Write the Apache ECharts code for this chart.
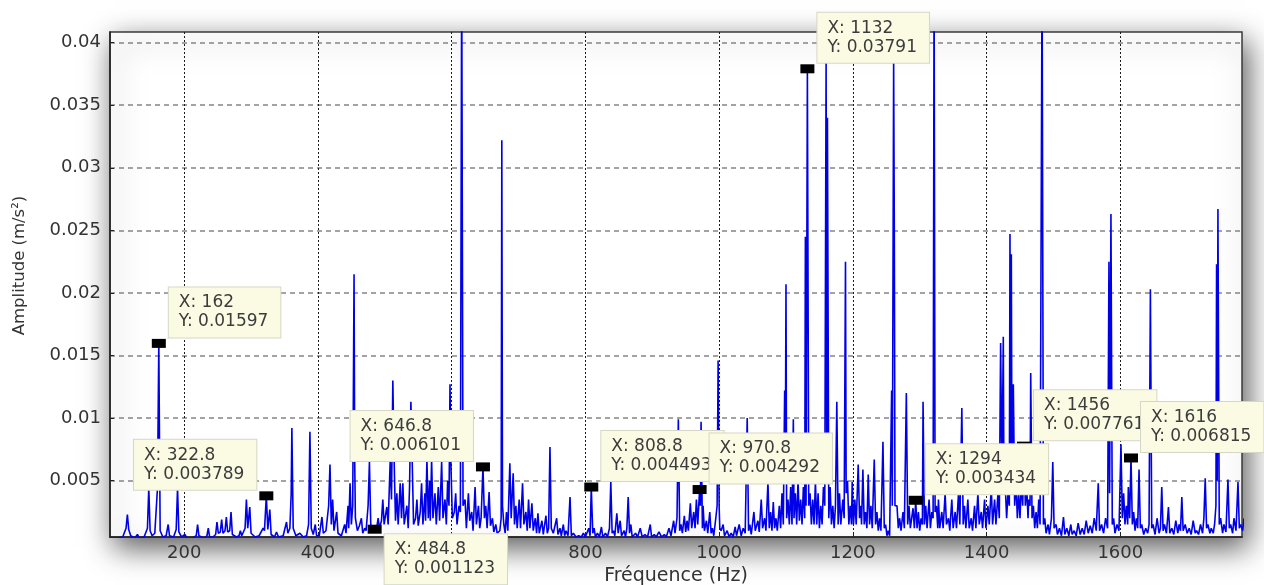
<!DOCTYPE html>
<html><head><meta charset="utf-8">
<script src="https://cdn.jsdelivr.net/npm/echarts@6/dist/echarts.min.js"></script>
<style>html,body{margin:0;padding:0;background:#fff}#chart{width:1264px;height:585px}</style>
</head><body><div id="chart"></div>
<script>
// Axis ticks
const xTicks = [200, 400, 600, 800, 1000, 1200, 1400, 1600];
const yTicks = [0.005, 0.01, 0.015, 0.02, 0.025, 0.03, 0.035, 0.04];

// Spectrum: [frequency (Hz), amplitude (m/s^2)]
const spectrumA = [
 [89,0.0004],[100,0.0004],[108,0.0005],[113,0.0012],[115,0.0023],[117,0.0011],[120,0.0006],[126,0.0004],[130,0.0007],[133,0.0004],
 [140,0.0005],[145,0.0012],[147,0.0044],[149,0.0010],[152,0.0006],[156,0.0008],[160,0.0044],[162,0.01597],[163,0.0085],[164,0.0010],
 [168,0.0005],[173,0.0006],[176,0.0015],[178,0.0006],[184,0.0005],[188,0.0011],[190,0.0044],[192,0.0009],[196,0.0005],[201,0.0007],
 [204,0.0004],[212,0.0004],[218,0.0006],[220,0.0015],[222,0.0006],[230,0.0004],[234,0.0006],[236,0.0012],[238,0.0005],[243,0.0005],
 [247,0.0007],[249,0.0017],[251,0.0008],[254,0.0009],[256,0.0019],[258,0.0008],[261,0.0010],[263,0.0021],[265,0.0009],[268,0.0010],
 [270,0.0025],[272,0.0007],[278,0.0005],[282,0.0006],[284,0.0010],[286,0.0006],[291,0.0012],[293,0.0035],[295,0.0012],[298,0.0029],
 [300,0.0008],[306,0.0005],[312,0.0006],[318,0.0012],[320,0.0010],[322.8,0.003789],[325,0.0011],[328,0.0027],[330,0.0007],[335,0.0005],
 [338,0.0009],[341,0.0005],[348,0.0006],[353,0.0017],[355,0.0008],[358,0.0012],[360,0.0040],[361,0.0092],[363,0.0012],[367,0.0006],
 [373,0.0008],[378,0.0005],[383,0.0006],[386,0.0015],[388,0.0089],[390,0.0012],[393,0.0007],[396,0.0015],[398,0.0006]
];
const spectrumB = [
 [402,0.0006],[406,0.0021],[408,0.0008],[412,0.0010],[416,0.0030],[418,0.0063],[420,0.0015],[422,0.0035],[424,0.0010],[428,0.0025],
 [430,0.0008],[435,0.0006],[440,0.0015],[442,0.0008],[445,0.0030],[446,0.0012],[448,0.0048],[450,0.0015],[452,0.0030],[454,0.0215],
 [455,0.0065],[456,0.0020],[459,0.0010],[462,0.0014],[465,0.0020],[467,0.0008],[470,0.0012],[472,0.0010],[475,0.0030],[477,0.0065],
 [479,0.0015],[482,0.0010],[484.8,0.001123],[487,0.0009],[490,0.0020],[492,0.0012],[495,0.0018],[497,0.0035],[499,0.0015],[503,0.0029],
 [505,0.0015],[508,0.0065],[510,0.0035],[512,0.0130],[514,0.0065],[516,0.0018],[518,0.0040],[520,0.0015],[523,0.0048],[525,0.0020],
 [527,0.0048],[529,0.0015],[533,0.0030],[535,0.0012],[537,0.0045],[539,0.0113],[541,0.0065],[543,0.0015],[546,0.0020],[548,0.0035],
 [550,0.0014],[553,0.0025],[555,0.0048],[557,0.0015],[560,0.0040],[561,0.0018],[563,0.0067],[565,0.0020],[567,0.0050],[568,0.0018],
 [570,0.0067],[572,0.0020],[575,0.0040],[577,0.0015],[580,0.0045],[582,0.0018],[585,0.0065],[587,0.0020],[590,0.0035],[592,0.0015],
 [594,0.0050],[596,0.0030],[597.5,0.0127],[599,0.0060],[601,0.0020],[604,0.0025],[606,0.0040],[608,0.0015],[611,0.0030],[613,0.0025],
 [614,0.0245],[615,0.046],[616,0.046],[617,0.0030],[620,0.0035],[622,0.0012],[625,0.0040],[627,0.0018],[630,0.0025],[632,0.0010],
 [635,0.0045],[637,0.0015],[640,0.0030],[642,0.0012],[644,0.0020],[646.8,0.006101],[649,0.0020],[651,0.0030],[653,0.0012],[656,0.0041],
 [658,0.0014],[661,0.0020],[663,0.0009],[666,0.0015],[668,0.0008],[672,0.0010],[674,0.0020],[675,0.0322],[676,0.0030],[678,0.0015],
 [680,0.0008],[682,0.0025],[684,0.0010],[687,0.0064],[689,0.0020],[692,0.0056],[694,0.0015],[696,0.0030],[698,0.0012],[701,0.0035],
 [703,0.0012],[706,0.0048],[708,0.0015],[711,0.0025],[713,0.0010],[715,0.0035],[717,0.0012],[720,0.0032],[722,0.0010],[725,0.0020],
 [727,0.0008],[729,0.0024],[731,0.0008],[735,0.0018],[737,0.0007],[741,0.0022],[743,0.0008],[745,0.0012],[747,0.0077],[749,0.0012],
 [752,0.0008],[757,0.0020],[759,0.0007],[762,0.0012],[764,0.0006],[767,0.0015],[769,0.0006],[771,0.0010],[774,0.0006],[777,0.0037],
 [779,0.0006],[782,0.0008],[786,0.0005],[790,0.0006],[794,0.0005],[797,0.0008],[800,0.0005]
];
const spectrumC = [
 [805,0.0012],[807,0.0006],[808.8,0.004493],[811,0.0008],[813,0.0012],[815,0.0005],[818,0.0008],[821,0.0005],[824,0.0013],[826,0.0005],
 [830,0.0008],[833,0.0005],[836,0.0012],[838,0.0049],[840,0.0008],[842,0.0010],[844,0.0006],[847,0.0024],[849,0.0008],[852,0.0018],
 [854,0.0006],[858,0.0010],[860,0.0005],[862,0.0012],[864,0.0037],[866,0.0008],[868,0.0015],[870,0.0005],[875,0.0008],[878,0.0005],
 [882,0.0012],[885,0.0005],[889,0.0007],[893,0.0005],[897,0.0015],[899,0.0005],[903,0.0007],[906,0.0005],[910,0.0009],[914,0.0005],
 [918,0.0007],[921,0.0005],[925,0.0012],[928,0.0006],[932,0.0018],[934,0.0008],[937,0.0020],[939,0.0099],[941,0.0010],[943,0.0015],
 [945,0.0008],[948,0.0022],[950,0.0009],[952,0.0018],[954,0.0010],[957,0.0032],[959,0.0012],[962,0.0025],[964,0.0012],[966,0.0035],
 [968,0.0015],[970.8,0.004292],[972,0.0030],[973,0.0097],[975,0.0012],[976,0.0030],[978,0.0010],[981,0.0018],[983,0.0008],[986,0.0025],
 [988,0.0008],[990,0.0012],[992,0.0006],[995,0.0020],[997,0.0030],[998.5,0.0146],[1000,0.0030],[1001,0.0012],[1003,0.0010],[1006,0.0015],
 [1008,0.0006],[1012,0.0010],[1015,0.0005],[1018,0.0008],[1021,0.0005],[1024,0.0013],[1026,0.0006],[1030,0.0015],[1033,0.0006],[1036,0.0012],
 [1039,0.0008],[1042,0.0100],[1044,0.0010],[1046,0.0015],[1048,0.0007],[1052,0.0025],[1054,0.0010],[1058,0.0018],[1060,0.0009],[1063,0.0035],
 [1065,0.0012],[1068,0.0020],[1070,0.0010],[1073,0.0049],[1075,0.0012],[1077,0.0025],[1079,0.0010],[1081,0.0033],[1083,0.0012],[1085,0.0020],
 [1087,0.0010],[1090,0.0030],[1092,0.0012],[1094,0.0040],[1096,0.0015],[1098,0.0122],[1099,0.0060],[1100,0.0207],[1101,0.0020],[1103,0.0035],
 [1105,0.0015],[1107,0.0045],[1109,0.0015],[1111,0.0099],[1112,0.0020],[1114,0.0040],[1116,0.0015],[1118,0.0050],[1120,0.0018],[1122,0.0035],
 [1124,0.0015],[1126,0.0045],[1128,0.0020],[1129,0.0245],[1130,0.0030],[1132,0.03791],[1134,0.0030],[1136,0.0040],[1138,0.0015],[1140,0.0035],
 [1142,0.0015],[1144,0.0050],[1146,0.0015],[1148,0.0040],[1150,0.0012],[1152,0.0030],[1154,0.0015],[1156,0.0045],[1158,0.0030],[1160,0.0388],
 [1161,0.0050],[1162,0.0340],[1164,0.0020],[1166,0.0045],[1168,0.0015],[1170,0.0030],[1172,0.0012],[1174,0.0030],[1176,0.0113],[1178,0.0015],
 [1180,0.0040],[1182,0.0015],[1185,0.0035],[1187,0.0020],[1189,0.0225],[1190,0.0040],[1192,0.0050],[1194,0.0015],[1196,0.0030],[1198,0.0015],
 [1199,0.0049],[1201,0.0015]
];
const spectrumD = [
 [1203,0.0035],[1205,0.0015],[1208,0.0063],[1210,0.0020],[1212,0.0030],[1213,0.0015],[1215,0.0059],[1217,0.0015],[1219,0.0025],[1221,0.0012],
 [1223,0.0055],[1225,0.0015],[1227,0.0030],[1229,0.0012],[1232,0.0067],[1234,0.0015],[1236,0.0025],[1238,0.0010],[1240,0.0020],[1242,0.0010],
 [1245,0.0081],[1247,0.0012],[1249,0.0015],[1251,0.0006],[1253,0.0010],[1255,0.0006],[1258,0.0122],[1259,0.0030],[1261,0.0386],[1262,0.0253],
 [1263,0.0030],[1266,0.0030],[1268,0.0012],[1270,0.0020],[1272,0.0010],[1275,0.0025],[1277,0.0012],[1280,0.0120],[1282,0.0015],[1284,0.0030],
 [1286,0.0012],[1288,0.0020],[1290,0.0028],[1292,0.0012],[1294,0.003434],[1296,0.0012],[1298,0.0025],[1300,0.0010],[1302,0.0020],[1304,0.0015],
 [1305,0.0113],[1307,0.0015],[1309,0.0030],[1311,0.0012],[1314,0.0035],[1316,0.0012],[1318,0.0025],[1320,0.0020],[1321.5,0.046],[1323,0.0025],
 [1325,0.0030],[1327,0.0012],[1328,0.0035],[1330,0.0012],[1333,0.0025],[1335,0.0012],[1338,0.0040],[1340,0.0015],[1343,0.0020],[1345,0.0010],
 [1348,0.0035],[1350,0.0012],[1353,0.0025],[1355,0.0012],[1358,0.0040],[1360,0.0015],[1363,0.0108],[1365,0.0015],[1367,0.0030],[1369,0.0012],
 [1372,0.0035],[1374,0.0012],[1377,0.0020],[1379,0.0010],[1382,0.0030],[1384,0.0012],[1387,0.0040],[1389,0.0015],[1392,0.0025],[1394,0.0012],
 [1397,0.0035],[1399,0.0012],[1402,0.0030],[1404,0.0015],[1407,0.0045],[1409,0.0015],[1412,0.0035],[1414,0.0015],[1417,0.0040],[1419,0.0020],
 [1421,0.0160],[1423,0.0050],[1425,0.0165],[1426,0.0040],[1428,0.0045],[1430,0.0020],[1432,0.0040],[1434,0.0030],[1435,0.0247],[1436,0.0060],
 [1437,0.0231],[1438,0.0050],[1440,0.0127],[1442,0.0030],[1444,0.0050],[1446,0.0020],[1448,0.0040],[1450,0.0020],[1452,0.0050],[1454,0.0030],
 [1456,0.007761],[1458,0.0030],[1460,0.0045],[1462,0.0020],[1463,0.0035],[1465,0.0030],[1466,0.0136],[1468,0.0020],[1470,0.0030],[1472,0.0012],
 [1474,0.0025],[1476,0.0012],[1478,0.0035],[1480,0.0015],[1483,0.046],[1485,0.0015],[1487,0.0020],[1489,0.0008],[1492,0.0015],[1494,0.0007],
 [1497,0.0020],[1499,0.0065],[1501,0.0012],[1504,0.0015],[1506,0.0007],[1509,0.0012],[1512,0.0006],[1515,0.0021],[1517,0.0007],[1520,0.0012],
 [1523,0.0006],[1526,0.0015],[1528,0.0007],[1531,0.0010],[1534,0.0006],[1537,0.0016],[1540,0.0007],[1543,0.0012],[1546,0.0007],[1549,0.0018],
 [1552,0.0008],[1555,0.0014],[1558,0.0008],[1561,0.0020],[1564,0.0010],[1567,0.0048],[1569,0.0010],[1572,0.0015],[1575,0.0008],[1578,0.0020],
 [1581,0.0012],[1583,0.0225],[1584,0.0040],[1586,0.0263],[1588,0.0015],[1590,0.0020],[1592,0.0008],[1595,0.0015],[1598,0.0010],[1601,0.0079],
 [1603,0.0020],[1605,0.0040],[1607,0.0015],[1609,0.0030],[1611,0.0015],[1612,0.0045],[1614,0.0020],[1616,0.006815],[1618,0.0015],[1620,0.0025],
 [1622,0.0010],[1624,0.0020],[1626,0.0012],[1628,0.0059],[1630,0.0012],[1632,0.0015],[1635,0.0007],[1638,0.0012],[1641,0.0008],[1643,0.0015],
 [1645,0.0203],[1647,0.0012],[1649,0.0015],[1652,0.0007],[1655,0.0020],[1658,0.0008],[1660,0.0012],[1662,0.0045],[1664,0.0010],[1666,0.0015],
 [1669,0.0008],[1672,0.0029],[1674,0.0008],[1677,0.0012],[1680,0.0007],[1683,0.0018],[1686,0.0008],[1688,0.0015],[1690,0.0010],[1692,0.0037],
 [1694,0.0010],[1697,0.0015],[1700,0.0008],[1703,0.0012],[1706,0.0007],[1709,0.0018],[1712,0.0008],[1714,0.0010],[1717,0.0007],[1720,0.0015],
 [1723,0.0008],[1725,0.0020],[1727,0.0052],[1729,0.0012],[1731,0.0015],[1734,0.0008],[1736,0.0012],[1739,0.0008],[1741,0.0015],[1743,0.0030],
 [1744,0.0223],[1745,0.0050],[1746,0.0267],[1748,0.0015],[1750,0.0020],[1753,0.0008],[1755,0.0015],[1758,0.0009],[1761,0.0051],[1763,0.0012],
 [1765,0.0015],[1768,0.0008],[1770,0.0020],[1773,0.0010],[1776,0.0049],[1778,0.0012],[1780,0.0015],[1783,0.0010],[1785,0.0020]
];

// Data tips (MATLAB data cursors)
const tipFreq = [162, 322.8, 484.8, 646.8, 808.8, 970.8, 1132, 1294, 1456, 1616];
const tipAmp  = [0.01597, 0.003789, 0.001123, 0.006101, 0.004493, 0.004292, 0.03791, 0.003434, 0.007761, 0.006815];
const tipSide = ['ur', 'ul', 'dr', 'ul', 'ur', 'ur', 'ur', 'ur', 'ur', 'ur'];

const placement = {
  ur: { position: [17, -1.5], align: 'left', verticalAlign: 'bottom' },
  ul: { position: [-3, -1.5], align: 'right', verticalAlign: 'bottom' },
  dr: { position: [17, 9.5], align: 'left', verticalAlign: 'top' }
};

const spectrum = spectrumA.concat(spectrumB, spectrumC, spectrumD);
const tips = tipFreq.map((f, i) => ({ value: [f, tipAmp[i]], label: placement[tipSide[i]] }));

const font = 'DejaVu Sans';
const chart = echarts.init(document.getElementById('chart'), null, { renderer: 'canvas' });
chart.setOption({
  animation: false,
  backgroundColor: '#ffffff',
  grid: {
    left: 110, top: 32, right: 22, bottom: 48,
    outerBoundsMode: 'none', containLabel: false,
    show: true, backgroundColor: '#ffffff', borderColor: '#3a3a3a', borderWidth: 1.5,
    shadowColor: 'rgba(0,0,0,0.65)', shadowBlur: 28, shadowOffsetX: 5, shadowOffsetY: 10
  },
  xAxis: {
    type: 'value', min: 89, max: 1782,
    splitNumber: 8, minInterval: xTicks[1] - xTicks[0], maxInterval: xTicks[1] - xTicks[0],
    name: 'Fréquence (Hz)', nameLocation: 'middle', nameGap: 27,
    nameTextStyle: { fontFamily: font, fontSize: 19, color: '#333' },
    axisLine: { show: true, onZero: false, lineStyle: { color: '#222', width: 1.5 } },
    axisTick: { show: true, inside: true, length: 4, lineStyle: { color: '#222' }, customValues: xTicks },
    axisLabel: { fontFamily: font, fontSize: 18, color: '#333', margin: 7, customValues: xTicks,
      formatter: v => String(v) },
    splitLine: { show: true, lineStyle: { color: '#1a1a1a', width: 1, type: [2, 2] } }
  },
  yAxis: {
    type: 'value', min: 0.0005, max: 0.04085,
    splitNumber: 8, minInterval: yTicks[1] - yTicks[0], maxInterval: yTicks[1] - yTicks[0],
    name: 'Amplitude (m/s²)', nameLocation: 'middle', nameGap: 82, nameRotate: 90,
    nameTextStyle: { fontFamily: font, fontSize: 16.5, color: '#333', padding: [0, 0, 0, 38] },
    axisLine: { show: true, onZero: false, lineStyle: { color: '#222', width: 1.5 } },
    axisTick: { show: true, inside: true, length: 4, lineStyle: { color: '#222' }, customValues: yTicks },
    axisLabel: { fontFamily: font, fontSize: 18, color: '#333', margin: 9, customValues: yTicks,
      formatter: v => String(+(+v).toFixed(4)) },
    splitLine: { show: true, lineStyle: { color: '#858585', width: 1.5, type: [5, 4] } }
  },
  series: [
    {
      type: 'line', data: spectrum, showSymbol: false, symbol: 'none', clip: true, sampling: null,
      lineStyle: { color: '#0000e8', width: 1.6 }, z: 3
    },
    {
      type: 'scatter', data: tips, symbol: 'rect', symbolSize: [14, 9], clip: false,
      itemStyle: { color: '#000000', opacity: 1 },
      z: 5,
      label: {
        show: true,
        formatter: p => '{t|X: ' + p.value[0] + '}\n{t|Y: ' + p.value[1] + '}',
        rich: { t: { align: 'left', fontFamily: font, fontSize: 17, lineHeight: 19, color: '#3c3c3c' } },
        fontFamily: font, fontSize: 17, lineHeight: 19, color: '#3c3c3c',
        backgroundColor: '#fbfbe4', borderColor: '#d6d6c6', borderWidth: 1,
        padding: [6, 12, 6, 10]
      },
      emphasis: { disabled: true }
    }
  ]
});
</script></body></html>
